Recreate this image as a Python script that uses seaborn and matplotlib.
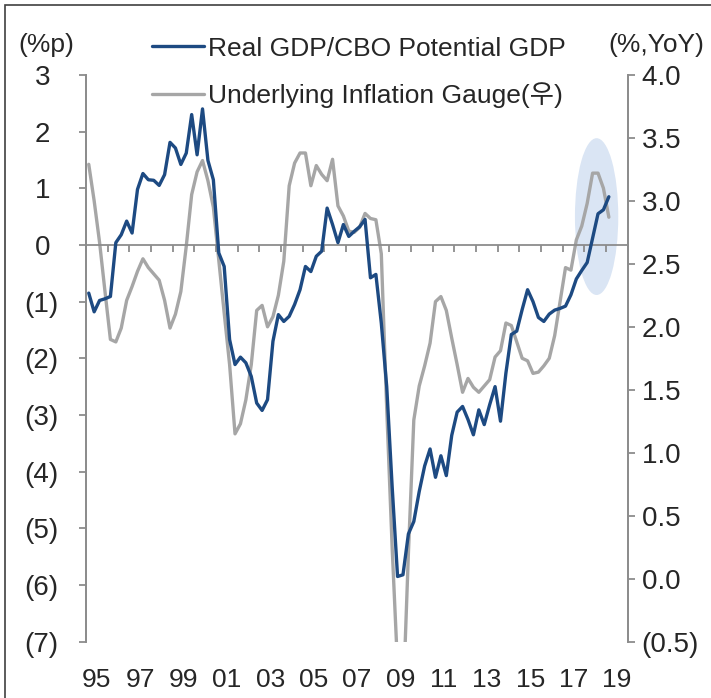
"""US output gap vs. underlying inflation gauge, 1995-2019."""

import matplotlib

matplotlib.use("Agg")

import matplotlib.pyplot as plt
import numpy as np
import pandas as pd
import seaborn as sns
from matplotlib.patches import Ellipse, Rectangle
from matplotlib.ticker import FixedLocator, FuncFormatter

START_YEAR = 1995

# quarterly values from 1995Q1
gdp_gap = [
    -0.85, -1.18, -0.98, -0.95, -0.91, 0.04, 0.18, 0.42, 0.21, 0.98,
    1.26, 1.15, 1.14, 1.05, 1.24, 1.81, 1.71, 1.42, 1.62, 2.30,
    1.59, 2.40, 1.49, 1.15, -0.14, -0.38, -1.67, -2.11, -1.98, -2.08,
    -2.32, -2.79, -2.92, -2.73, -1.70, -1.23, -1.35, -1.26, -1.05, -0.79,
    -0.38, -0.47, -0.20, -0.11, 0.65, 0.36, 0.04, 0.36, 0.15, 0.24,
    0.32, 0.45, -0.58, -0.52, -1.38, -2.50, -4.26, -5.85, -5.82, -5.10,
    -4.88, -4.35, -3.90, -3.60, -4.10, -3.72, -4.07, -3.36, -2.95, -2.85,
    -3.08, -3.35, -2.91, -3.17, -2.82, -2.50, -3.11, -2.26, -1.58, -1.52,
    -1.14, -0.79, -1.00, -1.28, -1.35, -1.22, -1.15, -1.12, -1.08, -0.88,
    -0.60, -0.45, -0.31, 0.12, 0.55, 0.62, 0.85,
]
uig = [
    3.29, 3.00, 2.67, 2.28, 1.90, 1.88, 1.99, 2.21, 2.32, 2.44,
    2.54, 2.47, 2.42, 2.37, 2.21, 1.99, 2.10, 2.28, 2.64, 3.05,
    3.23, 3.32, 3.16, 2.95, 2.53, 2.11, 1.70, 1.15, 1.23, 1.42,
    1.70, 2.13, 2.17, 2.00, 2.08, 2.25, 2.52, 3.12, 3.30, 3.38,
    3.38, 3.12, 3.28, 3.21, 3.16, 3.33, 2.96, 2.88, 2.76, 2.75,
    2.79, 2.90, 2.86, 2.85, 2.58, 1.35, 0.25, -0.70, -1.00, 0.20,
    1.26, 1.53, 1.69, 1.87, 2.20, 2.24, 2.13, 1.91, 1.70, 1.48,
    1.59, 1.52, 1.48, 1.53, 1.58, 1.76, 1.81, 2.03, 2.01, 1.88,
    1.75, 1.73, 1.63, 1.64, 1.69, 1.75, 1.93, 2.20, 2.47, 2.45,
    2.69, 2.80, 2.98, 3.22, 3.22, 3.10, 2.87,
]
year_labels = ["95", "97", "99", "01", "03", "05", "07", "09", "11", "13", "15", "17", "19"]
left_ticks = [-7, -6, -5, -4, -3, -2, -1, 0, 1, 2, 3]
right_ticks = [-0.5, 0.0, 0.5, 1.0, 1.5, 2.0, 2.5, 3.0, 3.5, 4.0]

GDP_LABEL = "Real GDP/CBO Potential GDP"
UIG_LABEL = "Underlying Inflation Gauge(우)"
BLUE = "#1d4a82"
GRAY = "#a6a6a6"
AXIS_GRAY = "#8c8c8c"
FONT = ["Liberation Sans", "Noto Sans CJK KR", "DejaVu Sans"]


def paren(fmt):
    def f(v, _pos):
        if v < 0:
            return "(" + format(-v, fmt) + ")"
        return format(v, fmt) + " "
    return FuncFormatter(f)


def main() -> None:
    n = len(gdp_gap)
    df = pd.DataFrame({
        "date": START_YEAR + (np.arange(n) + 0.5) / 4,
        "gap": gdp_gap,
        "uig": uig,
    })

    sns.set_theme(style="white")
    plt.rcParams["font.family"] = FONT
    plt.rcParams["font.size"] = 18

    fig = plt.figure(figsize=(7.11, 6.98), dpi=100)
    ax = fig.add_axes([0.121, 0.0807, 0.762, 0.812])
    ax2 = ax.twinx()
    # blue series sits on top of the grey one
    ax.set_zorder(ax2.get_zorder() + 1)
    ax.patch.set_visible(False)

    ax2.add_patch(Ellipse((2018.56, 2.875), 2.0, 1.245, facecolor="#dae5f4",
                          edgecolor="none", zorder=0))
    sns.lineplot(data=df, x="date", y="uig", ax=ax2, color=GRAY, lw=2.4,
                 label=UIG_LABEL, legend=False, zorder=2)
    sns.lineplot(data=df, x="date", y="gap", ax=ax, color=BLUE, lw=2.4,
                 label=GDP_LABEL, legend=False, zorder=3)

    ax.set_xlim(START_YEAR, 2020)
    ax.set_ylim(-7, 3)
    ax2.set_ylim(-0.5, 4.0)
    ax.set_xlabel("")
    ax.set_ylabel("")
    ax2.set_ylabel("")

    for a in (ax, ax2):
        for s in a.spines.values():
            s.set_color(AXIS_GRAY)
            s.set_linewidth(1.3)
        a.spines["top"].set_visible(False)
    ax2.spines["bottom"].set_visible(False)
    ax.spines["bottom"].set_position(("data", 0))

    ax.xaxis.set_major_locator(FixedLocator(np.arange(START_YEAR, 2021)))
    ax.tick_params(axis="x", direction="out", length=5, width=1.3,
                   color=AXIS_GRAY, labelbottom=False, bottom=True)
    for i, lab in enumerate(year_labels):
        ax.text(START_YEAR + 2 * i + 0.5, -0.068, lab, transform=ax.get_xaxis_transform(),
                ha="center", va="center", fontsize=19)

    ax.yaxis.set_major_locator(FixedLocator(left_ticks))
    ax.yaxis.set_major_formatter(paren("g"))
    ax.tick_params(axis="y", left=True, direction="out", length=5, width=1.3,
                   color=AXIS_GRAY, labelsize=20, pad=15)

    ax2.yaxis.set_major_locator(FixedLocator(right_ticks))
    ax2.yaxis.set_major_formatter(paren(".1f"))
    ax2.tick_params(axis="y", right=True, direction="out", length=5, width=1.3,
                    color=AXIS_GRAY, labelsize=20, pad=5)

    fig.text(46 / 711, 1 - 45 / 698, "(%p)", ha="center", va="center", fontsize=19)
    fig.text(656 / 711, 1 - 45 / 698, "(%,YoY)", ha="center", va="center", fontsize=19)

    handles = ax.get_lines()[:1] + ax2.get_lines()[:1]
    fig.legend(handles, [GDP_LABEL, UIG_LABEL], loc="upper left",
               bbox_to_anchor=(141 / 711, 1 - 26 / 698), frameon=False,
               fontsize=19, handlelength=2.0, handletextpad=0.15,
               labelspacing=0.82, borderaxespad=0)

    fig.add_artist(Rectangle((5 / 711, -0.05), 1.2, 1.05 - 5 / 698,
                             transform=fig.transFigure, fill=False,
                             edgecolor="#404040", lw=1.2))

    fig.savefig("out.png", dpi=100)
    plt.close(fig)


if __name__ == "__main__":
    main()
